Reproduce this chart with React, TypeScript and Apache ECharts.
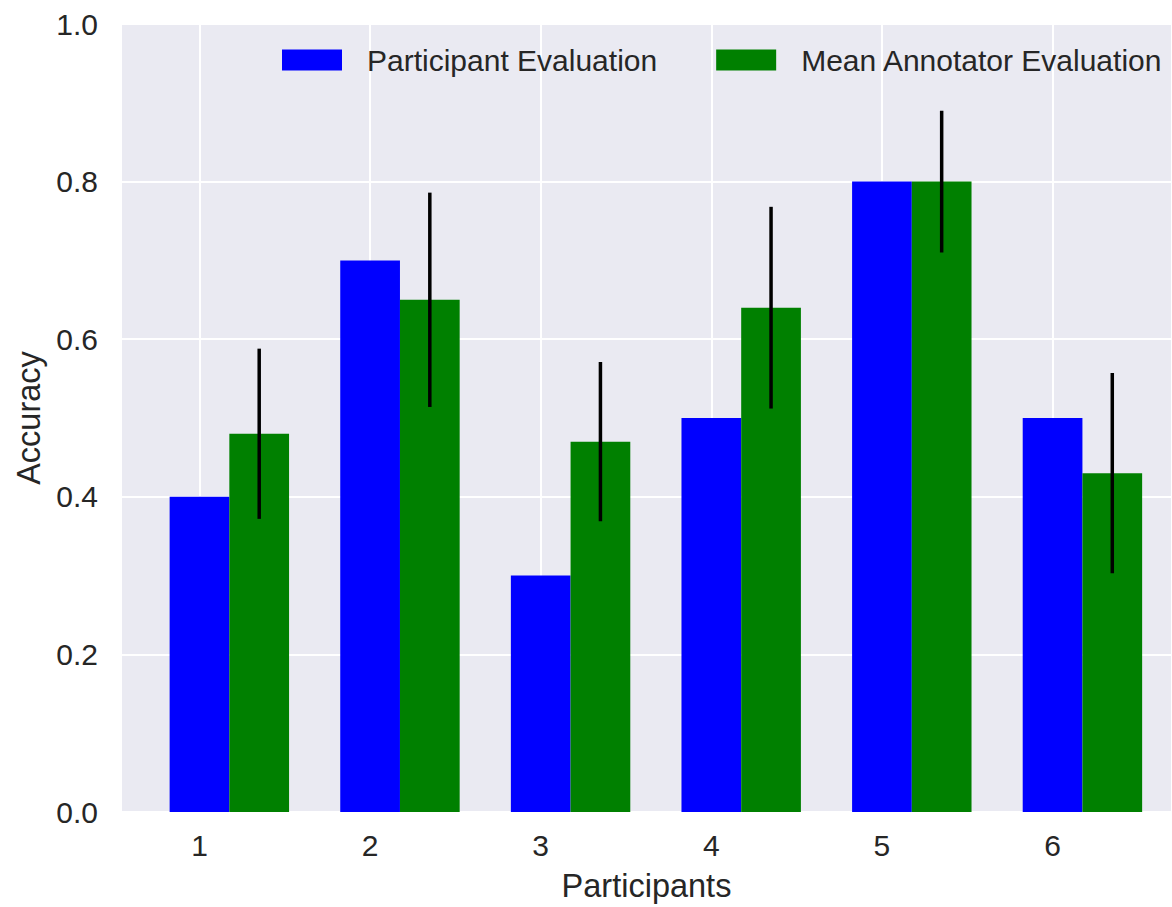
import React, { useEffect, useRef } from "react";
import * as echarts from "echarts";

const participants = [1, 2, 3, 4, 5, 6];
const participantEval = [0.4, 0.7, 0.3, 0.5, 0.8, 0.5];
const annotatorMean = [0.48, 0.65, 0.47, 0.64, 0.8, 0.43];
const annotatorErr = [0.108, 0.136, 0.101, 0.128, 0.09, 0.127];
const yTicks = [0, 0.2, 0.4, 0.6, 0.8, 1.0];

const BAR_W = 0.35;
const FONT = "'Liberation Sans', Arial, Helvetica, sans-serif";
const TEXT = "#262626";

export default function App() {
  const ref = useRef<HTMLDivElement>(null);

  useEffect(() => {
    if (!ref.current) return;
    const chart = echarts.init(ref.current, undefined, { renderer: "svg" });

    const bluePts = participants.map((p, i) => [p, participantEval[i]]);
    const greenPts = participants.map((p, i) => [p + BAR_W, annotatorMean[i]]);
    const errPts = participants.map((p, i) => [
      p + BAR_W,
      annotatorMean[i] - annotatorErr[i],
      annotatorMean[i] + annotatorErr[i],
    ]);

    const barRender = (color: string) => (params: any, api: any) => {
      const x = api.value(0);
      const y = api.value(1);
      const p0 = api.coord([x - BAR_W / 2, y]);
      const p1 = api.coord([x + BAR_W / 2, 0]);
      return {
        type: "rect",
        shape: { x: p0[0], y: p0[1], width: p1[0] - p0[0], height: p1[1] - p0[1] },
        style: { fill: color },
      };
    };

    chart.setOption({
      animation: false,
      backgroundColor: "#ffffff",
      textStyle: { fontFamily: FONT, color: TEXT },
      grid: { left: 121, top: 24, right: 0, height: 792, backgroundColor: "#EAEAF2", show: true, borderWidth: 0 },
      legend: {
        data: [
          { name: "Participant Evaluation", icon: "rect" },
          { name: "Mean Annotator Evaluation", icon: "rect" },
        ],
        orient: "horizontal",
        left: 282,
        top: 45,
        width: 1000,
        padding: 0,
        itemWidth: 60,
        itemHeight: 21,
        itemGap: 59,
        textStyle: { fontFamily: FONT, fontSize: 30, color: TEXT, padding: [0, 0, 0, 20] },
      },
      xAxis: {
        type: "value",
        min: 0.54,
        max: 6.7,
        name: "Participants",
        nameLocation: "middle",
        nameGap: 57,
        nameTextStyle: { fontFamily: FONT, fontSize: 32.5, color: TEXT },
        axisLine: { show: false },
        axisTick: { show: false },
        axisLabel: {
          fontFamily: FONT,
          fontSize: 30,
          color: TEXT,
          margin: 18,
          showMinLabel: false,
          showMaxLabel: false,
          formatter: (v: number) => (participants.includes(v) ? String(v) : ""),
        },
        splitLine: { show: true, lineStyle: { color: "#ffffff", width: 2 } },
      },
      yAxis: {
        type: "value",
        min: yTicks[0],
        max: yTicks[yTicks.length - 1],
        interval: 0.2,
        name: "Accuracy",
        nameLocation: "middle",
        nameGap: 76,
        nameTextStyle: { fontFamily: FONT, fontSize: 32.5, color: TEXT },
        axisLine: { show: false },
        axisTick: { show: false },
        axisLabel: {
          fontFamily: FONT,
          fontSize: 30,
          color: TEXT,
          margin: 23,
          formatter: (v: number) => v.toFixed(1),
        },
        splitLine: { show: true, lineStyle: { color: "#ffffff", width: 2 } },
      },
      series: [
        {
          name: "Participant Evaluation",
          type: "custom",
          itemStyle: { color: "#0000FF" },
          data: bluePts,
          encode: { x: 0, y: 1 },
          renderItem: barRender("#0000FF"),
          z: 2,
        },
        {
          name: "Mean Annotator Evaluation",
          type: "custom",
          itemStyle: { color: "#008000" },
          data: greenPts,
          encode: { x: 0, y: 1 },
          renderItem: barRender("#008000"),
          z: 2,
        },
        {
          name: "err",
          type: "custom",
          data: errPts,
          encode: { x: 0, y: [1, 2] },
          renderItem: (params: any, api: any) => {
            const a = api.coord([api.value(0), api.value(1)]);
            const b = api.coord([api.value(0), api.value(2)]);
            return {
              type: "line",
              shape: { x1: a[0], y1: a[1], x2: b[0], y2: b[1] },
              style: { stroke: "#000000", lineWidth: 3.5 },
            };
          },
          z: 3,
        },
      ],
    });

    return () => chart.dispose();
  }, []);

  return (
    <div
      ref={ref}
      style={{ position: "fixed", left: 0, top: 0, width: 1172, height: 907 }}
    />
  );
}
